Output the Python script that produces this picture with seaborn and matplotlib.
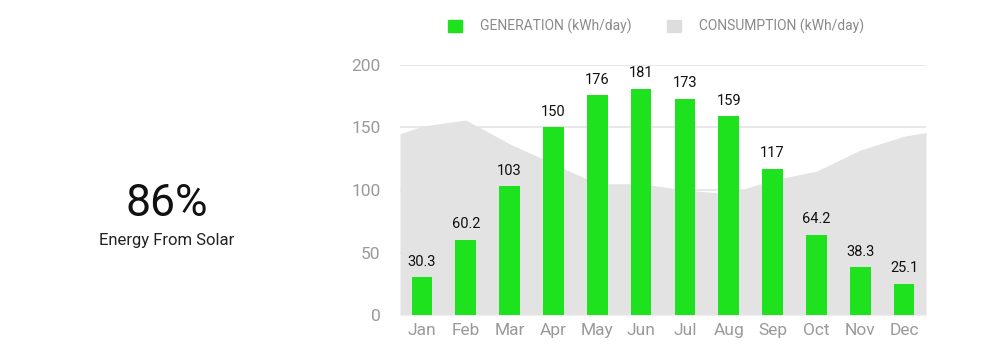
import seaborn as sns
import matplotlib.pyplot as plt
from matplotlib.patches import Patch

# Data
months = ['Jan', 'Feb', 'Mar', 'Apr', 'May', 'Jun', 'Jul', 'Aug', 'Sep', 'Oct', 'Nov', 'Dec']
generation = [30.3, 60.2, 103, 150, 176, 181, 173, 159, 117, 64.2, 38.3, 25.1]
gen_labels = ['30.3', '60.2', '103', '150', '176', '181', '173', '159', '117', '64.2', '38.3', '25.1']
cons_x = [-0.5, 0, 1, 2, 3, 4, 5, 6, 7, 8, 9, 10, 11, 11.5]
consumption = [145, 151, 156, 137, 121, 105, 105, 100, 97, 108, 115, 132, 143, 146]

green = '#1de21d'
grey = '#e3e3e3'
tick_col = '#9a9a9a'

sns.set_style('white')
plt.rcParams['font.family'] = ['Roboto', 'DejaVu Sans']

f = plt.figure(figsize=(9.94, 3.57), dpi=100)
a = f.add_axes([0.4024, 0.1176, 0.5292, 0.7004])

a.fill_between(cons_x, consumption, 0, color=grey, lw=0, zorder=0.1)
sns.barplot(x=months, y=generation, color=green, width=0.47, saturation=1,
            linewidth=0, edgecolor='none', ax=a, zorder=2)
a.bar_label(a.containers[0], labels=gen_labels, padding=6, fontsize=10.5, color='#111111')

a.set_xlim(-0.5, 11.5)
a.set_ylim(0, 200)
a.set_yticks([0, 50, 100, 150, 200])
a.yaxis.grid(True, color='#e4e4e4', lw=1.2)
a.set_axisbelow(True)
for s in a.spines.values():
    s.set_visible(False)
a.tick_params(axis='both', length=0, labelsize=12.5, colors=tick_col)
a.tick_params(axis='y', pad=14)
a.tick_params(axis='x', pad=6)
a.set_xlabel('')
a.set_ylabel('')

handles = [Patch(color=green), Patch(color='#dddddd')]
f.legend(handles, ['GENERATION (kWh/day)', 'CONSUMPTION (kWh/day)'], loc='center',
         bbox_to_anchor=(0.66, 0.925), ncol=2, frameon=False, fontsize=10,
         labelcolor='#8a8a8a', handlelength=1.0, handleheight=1.0, columnspacing=2.6,
         handletextpad=1.3)

f.text(167 / 994, 1 - 204 / 357, '86%', ha='center', va='center', fontsize=32,
       color='#111111')
f.text(167 / 994, 1 - 241 / 357, 'Energy From Solar', ha='center', va='center', fontsize=12, color='#222222')

f.savefig('out.png', dpi=100)
